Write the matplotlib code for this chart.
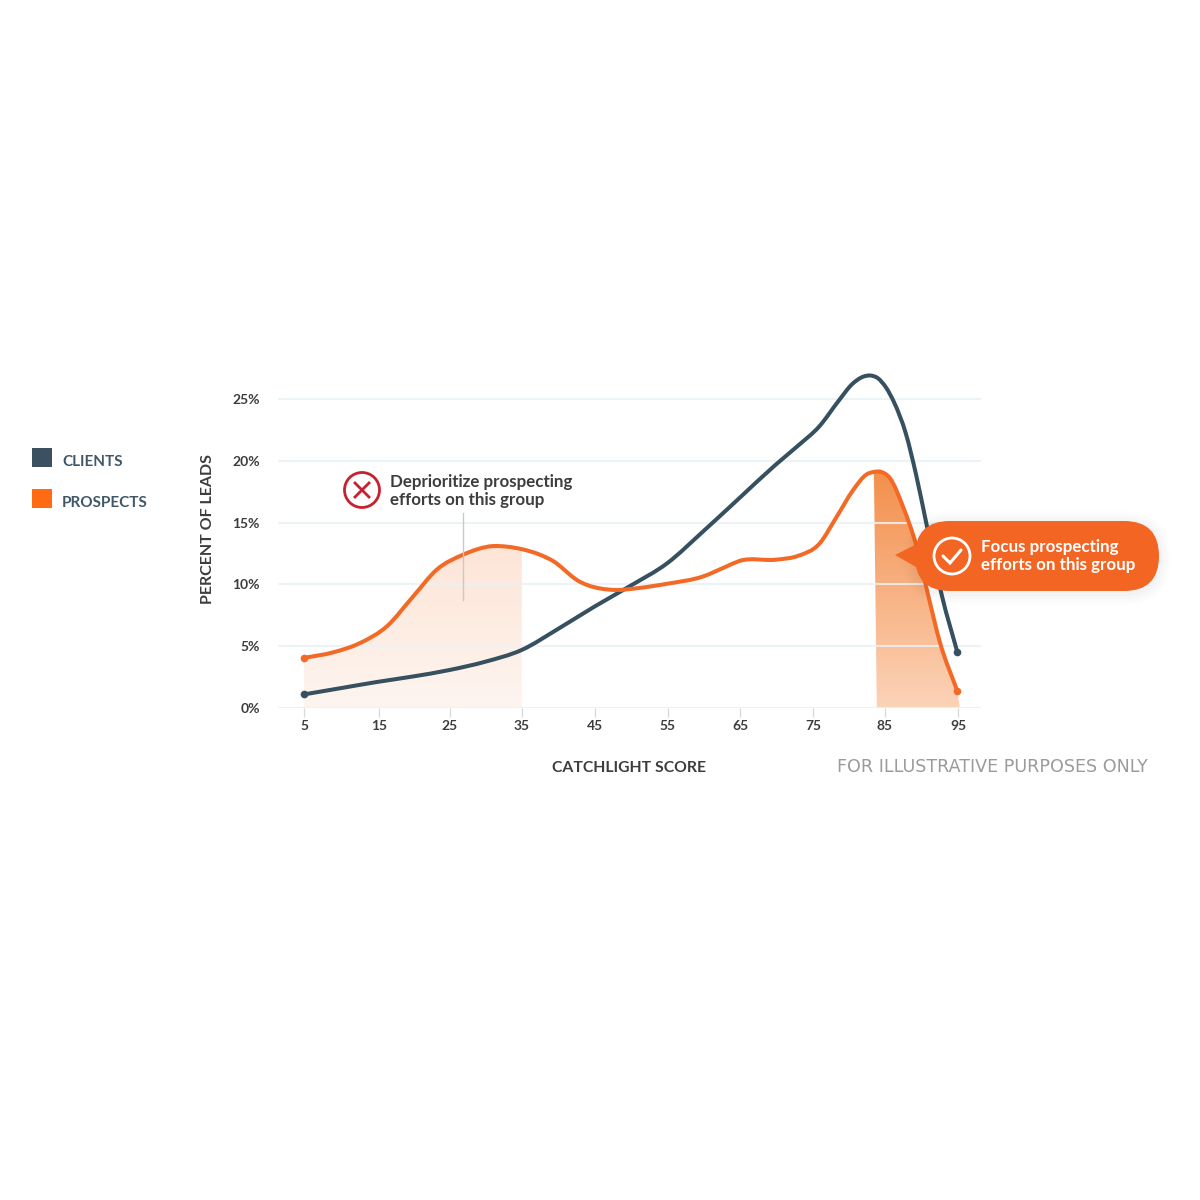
import numpy as np
import matplotlib
matplotlib.use("Agg")
import matplotlib.pyplot as plt
from matplotlib.colors import LinearSegmentedColormap
from matplotlib.patches import Circle, FancyBboxPatch, PathPatch, Polygon, Rectangle
from matplotlib.path import Path

plt.rcParams["font.family"] = ["Lato", "DejaVu Sans"]

# values
clients_x = [5, 10, 15, 20, 25, 30, 35, 40, 45, 50, 55, 60, 65, 70, 73, 76, 78.7,
             80.5, 82, 83, 84, 85.2, 86.3, 87.9, 89.3, 90.7, 92.9, 95]
clients_y = [1.1, 1.6, 2.1, 2.55, 3.07, 3.75, 4.7, 6.4, 8.2, 9.9, 11.7, 14.3, 17.0,
             19.7, 21.2, 22.8, 24.9, 26.2, 26.8, 26.9, 26.7, 25.9, 24.7, 22.2, 18.9,
             15.0, 9.0, 4.5]
prospects_x = [5, 9, 12.7, 16.4, 20, 23.3, 26.9, 31, 33, 35, 37.5, 39.8, 41.2, 42.6,
               44, 46, 48, 51, 55, 60, 63, 65, 70, 73, 76, 78.4, 80.6, 82.5, 83.5,
               84.5, 85.7, 87.5, 89.4, 90.8, 92.6, 95]
prospects_y = [4.05, 4.5, 5.25, 6.6, 9.0, 11.2, 12.4, 13.1, 13.05, 12.85, 12.4, 11.7,
               11.0, 10.35, 9.95, 9.65, 9.55, 9.7, 10.05, 10.65, 11.4, 11.9, 12.0,
               12.3, 13.3, 15.5, 17.6, 18.9, 19.1, 19.1, 18.6, 16.3, 13.0, 9.55, 5.3,
               1.35]
x_ticks = [5, 15.3, 25.1, 35, 45.1, 55.1, 65.1, 75.1, 85, 95.1]
x_labels = ["5", "15", "25", "35", "45", "55", "65", "75", "85", "95"]
y_ticks = [0, 5, 10, 15, 20, 25]
y_labels = ["0%", "5%", "10%", "15%", "20%", "25%"]

navy = "#36505f"
orange = "#f26a25"
dark = "#3d3d3d"


def smooth_path(xs, ys):
    # cubic hermite through the read values, as bezier segments
    xs, ys = np.asarray(xs, float), np.asarray(ys, float)
    m = np.gradient(ys, xs)
    verts = [(xs[0], ys[0])]
    codes = [Path.MOVETO]
    for i in range(len(xs) - 1):
        h = xs[i + 1] - xs[i]
        verts += [(xs[i] + h / 3, ys[i] + m[i] * h / 3),
                  (xs[i + 1] - h / 3, ys[i + 1] - m[i + 1] * h / 3),
                  (xs[i + 1], ys[i + 1])]
        codes += [Path.CURVE4] * 3
    return verts, codes


def gradient_fill(ax, verts, codes, top, bottom, ymax, z=1):
    cmap = LinearSegmentedColormap.from_list("g", [bottom, top])
    im = ax.imshow(np.linspace(1, 0, 128)[:, None], cmap=cmap, aspect="auto",
                   extent=[0, 100, 0, ymax], zorder=z, interpolation="bilinear")
    im.set_clip_path(Path(verts, codes), ax.transData)


fig = plt.figure(figsize=(12, 12), dpi=100, facecolor="white")
ax = fig.add_axes([278 / 1200, 1 - 708 / 1200, 703 / 1200, 342 / 1200])
ax.patch.set_alpha(0)

# shaded groups under the prospects curve
i35 = prospects_x.index(35)
v, c = smooth_path(prospects_x[:i35 + 1], prospects_y[:i35 + 1])
v += [(35, 0), (5, 0), (5, prospects_y[0]), (5, prospects_y[0])]
c += [Path.LINETO, Path.LINETO, Path.LINETO, Path.CLOSEPOLY]
gradient_fill(ax, v, c, "#fde5d6", "#fef5f0", 13.2)

i84 = prospects_x.index(83.5)
v, c = smooth_path(prospects_x[i84:], prospects_y[i84:])
v += [(95.35, 0), (83.9, 0), (83.5, prospects_y[i84]), (83.5, prospects_y[i84])]
c += [Path.LINETO, Path.LINETO, Path.LINETO, Path.CLOSEPOLY]
gradient_fill(ax, v, c, "#f38f4b", "#fcd3b8", 19.2)

for t in y_ticks:
    ax.axhline(t, color="#e9f2f6", lw=1.5, zorder=2, alpha=0.85)

for xs, ys, col in [(clients_x, clients_y, navy), (prospects_x, prospects_y, orange)]:
    v, c = smooth_path(xs, ys)
    ax.add_patch(PathPatch(Path(v, c), fill=False, ec=col, lw=2.9, capstyle="round",
                           joinstyle="round", zorder=3, clip_on=False))
    ax.plot([xs[0], xs[-1]], [ys[0], ys[-1]], "o", color=col, ms=5.5, mew=0, zorder=4,
            clip_on=False)

ax.set_xlim(1.42, 98.25)
ax.set_ylim(0, 342 / 12.36)
for s in ax.spines.values():
    s.set_visible(False)
ax.set_xticks(x_ticks, x_labels)
ax.set_yticks(y_ticks, y_labels)
ax.tick_params(axis="x", length=6.5, width=0.9, color="#d5d9dc", pad=2, labelsize=10,
               labelcolor=dark)
ax.tick_params(axis="y", length=0, pad=13, labelsize=10, labelcolor=dark)
for lab in ax.get_xticklabels() + ax.get_yticklabels():
    lab.set_fontweight("bold")
ax.set_xlabel("CATCHLIGHT SCORE", fontsize=11.3, fontweight="bold", color=dark, va="center")
ax.xaxis.set_label_coords(0.499, -0.1745)
ax.set_ylabel("PERCENT OF LEADS", fontsize=11.5, fontweight="bold", color=dark, va="center")
ax.yaxis.set_label_coords(-0.1, 0.523)

# overlay in pixel coordinates for legend and callouts
ov = fig.add_axes([0, 0, 1, 1])
ov.set_xlim(0, 1200)
ov.set_ylim(1200, 0)
ov.axis("off")
ov.patch.set_alpha(0)

ov.add_patch(Rectangle((32, 448), 20, 19, fc="#3b5162", ec="none"))
ov.add_patch(Rectangle((32, 489), 20, 19, fc="#ff6a13", ec="none"))
ov.text(62, 461.5, "CLIENTS", fontsize=11, fontweight="bold", color="#3f5768", va="center")
ov.text(62, 503, "PROSPECTS", fontsize=11, fontweight="bold", color="#3f5768", va="center")

# deprioritize note
ov.plot([463, 463], [513, 600], color="#c9c9c9", lw=1, zorder=5)
ov.add_patch(Circle((362, 490), 17.5, fc="white", ec="#c8202f", lw=2))
ov.plot([355, 369], [483, 497], color="#c8202f", lw=2)
ov.plot([355, 369], [497, 483], color="#c8202f", lw=2)
ov.text(390, 482, "Deprioritize prospecting", fontsize=12.2, fontweight="bold", color=dark,
        va="center")
ov.text(390, 500, "efforts on this group", fontsize=12.2, fontweight="bold", color=dark,
        va="center")

# focus callout, soft shadow first
for grow, a in [(12, 0.008), (9, 0.01), (6, 0.012), (3, 0.015)]:
    ov.add_patch(FancyBboxPatch((915 - grow, 523 - grow), 244 + 2 * grow, 70 + 2 * grow,
                                boxstyle=f"round,pad=0,rounding_size={35 + grow}",
                                fc="black", ec="none", alpha=a))
ov.add_patch(FancyBboxPatch((915, 521), 244, 70, boxstyle="round,pad=0,rounding_size=35",
                            fc="#f36523", ec="none"))
ov.add_patch(Polygon([(895, 555), (925, 540), (925, 572)], fc="#f36523", ec="none"))
ov.add_patch(Circle((952, 556), 18, fc="none", ec="white", lw=2))
ov.plot([943, 950, 961], [556, 563, 550], color="white", lw=2.2, solid_capstyle="round",
        solid_joinstyle="miter")
ov.text(981, 547, "Focus prospecting", fontsize=12.2, fontweight="bold", color="white",
        va="center")
ov.text(981, 565, "efforts on this group", fontsize=12.2, fontweight="bold", color="white",
        va="center")

ov.text(837, 767, "FOR ILLUSTRATIVE PURPOSES ONLY", fontsize=12.6, color="#9b9b9b",
        va="center", family=["DejaVu Sans"])

fig.savefig("out.png", dpi=100)
